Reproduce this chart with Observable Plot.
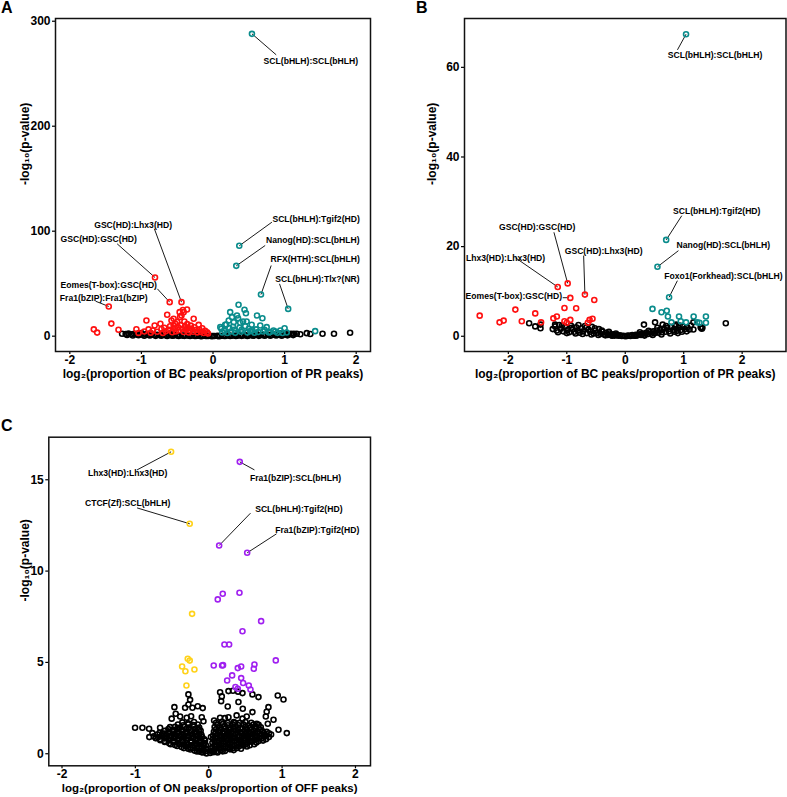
<!DOCTYPE html>
<html><head><meta charset="utf-8">
<script src="https://cdn.jsdelivr.net/npm/d3@7"></script>
<script src="https://cdn.jsdelivr.net/npm/@observablehq/plot@0.6"></script>
<style>
html,body{margin:0;padding:0;background:#fff;}
#root{position:relative;width:787px;height:797px;overflow:hidden;background:#fff;font-family:"Liberation Sans",Arial,Helvetica,sans-serif;}
.panel{position:absolute;}
.letter{position:absolute;font-weight:bold;font-size:16px;line-height:16px;color:#000;}
</style></head><body><div id="root"></div>
<script>
// ---------- shared ----------
const xTicks = [-2, -1, 0, 1, 2];
const yTitle = "-log\u2081\u2080(p-value)";

// ---------- Panel A ----------
const aTitleX = "log\u2082(proportion of BC peaks/proportion of PR peaks)";
const aTicksY = [0, 100, 200, 300];
const aBlack = [
[-1.27,2.3],[-1.22,2.1],[-1.18,2.4],[-1.14,1.9],[-1.1,2.2],[-1.06,1.6],[-1.02,2.0],[-0.98,1.4],[-0.94,1.8],[-0.9,1.2],
[-0.86,1.6],[-0.82,1.0],[-0.78,1.4],[-0.74,0.9],[-0.7,1.3],[-0.66,0.8],[-0.62,1.1],[-0.58,0.7],[-0.54,1.0],[-0.5,0.6],
[-0.46,0.9],[-0.42,0.5],[-0.38,0.8],[-0.34,0.4],[-0.3,0.6],[-0.26,0.3],[-0.22,0.5],[-0.18,0.2],[-0.14,0.4],[-0.1,0.1],
[-0.06,0.3],[-0.02,0.0],[0.02,0.1],[0.06,0.3],[0.1,0.2],[0.14,0.4],[0.18,0.3],[0.22,0.6],[0.26,0.4],[0.3,0.7],
[0.34,0.5],[0.38,0.8],[0.42,0.6],[0.46,0.9],[0.5,0.7],[0.54,1.0],[0.58,0.8],[0.62,1.1],[0.66,0.9],[0.7,1.2],
[0.74,1.0],[0.78,1.3],[0.82,1.1],[0.86,1.5],[0.9,1.2],[0.94,1.6],[0.98,1.3],[1.02,1.8],[1.06,1.5],[1.09,2.3],
[1.13,2.3],[1.17,2.3],[1.22,1.8],[1.31,2.9],[1.36,2.1],[1.53,2.3],[1.69,2.3],[1.915,3.2],
[-1.2,1.2],[-1.12,0.6],[-1.04,0.9],[-0.96,0.4],[-0.88,0.7],[-0.8,0.3],[-0.72,0.5],[-0.64,0.2],[-0.56,0.4],[-0.48,0.1],
[-0.4,0.3],[-0.32,0.1],[-0.24,0.2],[-0.16,0.0],[-0.08,0.1],[0.0,0.2],[0.08,0.0],[0.16,0.1],[0.24,0.2],[0.32,0.1],
[0.4,0.3],[0.48,0.2],[0.56,0.4],[0.64,0.3],[0.72,0.5],[0.8,0.4],[0.88,0.6],[0.96,0.5],[1.04,0.8],[1.12,1.0],
[-1.0,3.0],[-0.6,2.6],[-0.2,1.8],[0.2,2.0],[0.6,2.4],[0.95,2.7]
];
const aRed = [
[-1.665,6.5],[-1.618,3.4],[-1.456,28.3],[-1.42,12.0],[-1.32,6.1],[-1.07,6.6],[-1.04,3.0],[-0.96,4.5],[-0.93,15.0],[-0.9,6.5],
[-0.87,3.2],[-0.84,5.4],[-0.815,10.2],[-0.81,55.9],[-0.78,4.2],[-0.735,11.8],[-0.72,6.8],[-0.7,3.1],[-0.68,8.0],[-0.66,4.6],
[-0.64,20.4],[-0.62,6.0],[-0.605,32.4],[-0.6,9.5],[-0.58,15.0],[-0.57,3.8],[-0.55,16.6],[-0.55,10.0],[-0.53,7.2],[-0.526,11.8],
[-0.52,4.5],[-0.5,13.5],[-0.49,8.6],[-0.48,5.6],[-0.466,22.9],[-0.46,18.2],[-0.45,10.5],[-0.44,32.4],[-0.44,19.7],[-0.43,7.0],
[-0.42,25.0],[-0.41,22.9],[-0.41,4.0],[-0.4,14.0],[-0.39,9.0],[-0.38,6.0],[-0.363,25.4],[-0.36,11.5],[-0.35,8.0],[-0.34,3.5],
[-0.32,5.5],[-0.31,10.0],[-0.3,7.0],[-0.28,4.2],[-0.27,16.6],[-0.26,8.5],[-0.24,5.8],[-0.22,3.6],[-0.2,10.8],[-0.19,6.2],
[-0.17,4.0],[-0.15,7.5],[-0.13,3.0],[-0.11,5.0],[-0.084,3.8],[-0.07,2.5]
];
const aTeal = [
[0.102,8.6],[0.116,7.0],[0.13,3.5],[0.16,5.0],[0.17,10.9],[0.186,11.1],[0.2,3.0],[0.22,15.0],[0.23,7.5],[0.24,22.9],
[0.25,4.5],[0.265,18.1],[0.28,9.0],[0.29,13.3],[0.3,6.0],[0.31,3.2],[0.325,67.0],[0.335,19.7],[0.35,17.1],[0.357,29.9],
[0.367,86.1],[0.37,8.0],[0.38,12.8],[0.39,4.2],[0.4,6.0],[0.42,14.0],[0.44,25.1],[0.45,9.5],[0.46,21.9],[0.47,14.0],
[0.48,3.6],[0.5,7.0],[0.52,4.8],[0.54,10.9],[0.544,288.0],[0.55,5.5],[0.58,3.2],[0.6,6.5],[0.614,19.7],[0.63,4.0],
[0.66,10.2],[0.67,39.7],[0.69,17.1],[0.7,4.5],[0.72,6.0],[0.75,8.6],[0.78,3.5],[0.8,4.0],[0.845,5.4],[0.87,4.5],
[0.9,3.2],[0.94,5.4],[0.97,3.0],[1.0,7.6],[1.03,3.5],[1.05,26.0],[1.427,4.8]
];
const aLabels = [
  {name:"SCL(bHLH):SCL(bHLH)", lx:1.367, ly:261.6, sx:0.883, sy:268, px:0.544, py:288},
  {name:"GSC(HD):Lhx3(HD)", lx:-1.116, ly:106.1, sx:-0.819, sy:102.3, px:-0.44, py:32.4},
  {name:"GSC(HD):GSC(HD)", lx:-1.596, ly:92.1, sx:-1.339, sy:88, px:-0.81, py:55.9},
  {name:"Eomes(T-box):GSC(HD)", lx:-1.456, ly:48.3, sx:-0.777, sy:45.1, px:-0.605, py:32.4},
  {name:"Fra1(bZIP):Fra1(bZIP)", lx:-1.526, ly:36.6, sx:-1.64, sy:33.3, px:-1.456, py:28.3},
  {name:"SCL(bHLH):Tgif2(HD)", lx:1.44, ly:111.8, sx:0.823, sy:108.6, px:0.367, py:86.1},
  {name:"Nanog(HD):SCL(bHLH)", lx:1.395, ly:91.1, sx:0.729, sy:86.4, px:0.325, py:67},
  {name:"RFX(HTH):SCL(bHLH)", lx:1.427, ly:73.7, sx:0.813, sy:67.3, px:0.67, py:39.7},
  {name:"SCL(bHLH):Tlx?(NR)", lx:1.459, ly:54.7, sx:0.929, sy:49.9, px:1.05, py:26}
];

// ---------- Panel B ----------
const bTitleX = "log\u2082(proportion of BC peaks/proportion of PR peaks)";
const bTicksY = [0, 20, 40, 60];
const bBlack = [
[-1.644,2.9],[-1.54,2.2],[-1.45,2.6],[-1.45,1.8],[-1.24,1.6],[-1.2,2.2],[-1.17,1.3],[-1.13,2.5],[-1.1,1.7],[-1.06,1.1],
[-1.03,2.1],[-0.99,1.4],[-0.96,0.9],[-0.93,2.4],[-0.9,1.6],[-0.87,1.0],[-0.84,2.0],[-0.81,1.3],[-0.78,0.8],[-0.75,1.8],
[-0.72,1.1],[-0.69,2.3],[-0.66,0.7],[-0.63,1.5],[-0.6,1.0],[-0.57,2.1],[-0.54,0.6],[-0.51,1.3],[-0.48,0.8],[-0.45,1.6],
[-0.42,0.5],[-0.39,1.0],[-0.36,0.4],[-0.33,0.8],[-0.3,0.3],[-0.27,0.6],[-0.24,0.2],[-0.21,0.45],[-0.18,0.15],[-0.15,0.3],
[-0.12,0.1],[-0.09,0.2],[-0.06,0.05],[-0.03,0.1],[0.0,0.0],[0.03,0.08],[0.06,0.15],[0.09,0.05],[0.12,0.25],[0.15,0.12],
[0.18,0.35],[0.21,0.2],[0.24,0.45],[0.27,0.3],[0.3,0.6],[0.32,2.6],[0.33,0.4],[0.36,0.75],[0.39,0.5],[0.42,0.9],
[0.45,0.6],[0.48,1.1],[0.51,3.1],[0.51,0.7],[0.54,1.3],[0.57,0.8],[0.6,1.5],[0.63,0.9],[0.64,2.6],[0.66,1.7],
[0.69,1.0],[0.72,1.9],[0.75,1.1],[0.78,2.1],[0.82,1.4],[0.85,2.3],[0.88,1.2],[0.91,1.9],[0.95,1.4],[0.98,2.2],
[1.02,1.6],[1.06,2.0],[1.1,1.5],[1.166,3.1],[1.166,1.5],[1.3,1.87],[1.31,1.7],[1.29,2.0],[1.32,1.9],[1.72,2.9],
[-1.15,0.9],[-1.08,2.4],[-1.0,0.7],[-0.92,1.9],[-0.85,0.6],[-0.8,2.5],[-0.73,0.5],[-0.66,2.0],[-0.58,0.4],[-0.52,1.8],
[-0.46,0.3],[-0.4,1.3],[-0.34,0.2],[-0.28,1.0],[-0.22,0.1],[-0.16,0.6],[0.18,0.1],[0.25,0.9],[0.33,0.15],[0.4,1.2],
[0.47,0.3],[0.55,1.9],[0.62,0.4],[0.7,2.3],[0.77,0.6],[0.84,1.0],[0.9,0.7],[0.97,1.0],[1.05,1.1],[1.12,2.4],
[0.87,2.6],[0.93,2.4],[-1.2,2.6]
];
const bRed = [
[-2.49,4.6],[-2.15,3.1],[-2.08,3.5],[-1.88,5.95],[-1.77,3.35],[-1.54,5.1],[-1.44,3.1],[-1.23,4.0],[-1.17,4.4],[-1.155,11.0],
[-1.04,6.3],[-1.04,3.35],[-1.0,3.0],[-0.985,11.8],[-0.94,8.56],[-0.94,3.65],[-0.84,6.25],[-0.69,9.3],[-0.64,3.0],[-0.61,3.65],
[-0.56,3.9],[-0.53,8.1]
];
const bTeal = [
[0.466,6.1],[0.551,15.5],[0.62,5.35],[0.70,21.5],[0.71,5.7],[0.73,4.4],[0.75,8.7],[0.79,3.1],[0.92,4.4],[0.95,3.35],
[1.04,3.1],[1.04,67.4],[1.17,4.4],[1.23,3.1],[1.27,3.0],[1.38,4.4],[1.38,3.0]
];
const bLabels = [
  {name:"SCL(bHLH):SCL(bHLH)", lx:1.536, ly:62.6, sx:0.893, sy:63.9, px:1.04, py:67.4},
  {name:"SCL(bHLH):Tgif2(HD)", lx:1.565, ly:27.9, sx:0.967, sy:26.9, px:0.70, py:21.5},
  {name:"Nanog(HD):SCL(bHLH)", lx:1.678, ly:20.2, sx:0.91, sy:19.1, px:0.551, py:15.5},
  {name:"Foxo1(Forkhead):SCL(bHLH)", lx:1.678, ly:13.4, sx:0.892, sy:12.4, px:0.75, py:8.7},
  {name:"GSC(HD):GSC(HD)", lx:-1.507, ly:24.3, sx:-1.22, sy:23.2, px:-0.985, py:11.8},
  {name:"Lhx3(HD):Lhx3(HD)", lx:-2.048, ly:17.5, sx:-1.877, sy:17.5, px:-1.155, py:11.0},
  {name:"GSC(HD):Lhx3(HD)", lx:-0.37, ly:18.9, sx:-0.712, sy:18.0, px:-0.69, py:9.3},
  {name:"Eomes(T-box):GSC(HD)", lx:-1.906, ly:8.9, sx:-1.07, sy:8.6, px:-0.96, py:8.6}
];

// ---------- Panel C ----------
const cTitleX = "log\u2082(proportion of ON peaks/proportion of OFF peaks)";
const cTicksY = [0, 5, 10, 15];
const cBlack = [
[-1.004,1.42],[-0.904,1.42],[-0.813,1.37],[-0.81,0.91],[-0.768,1.13],[-0.72,0.85],[-0.663,1.42],[-0.63,1.1],[-0.527,1.46],[-0.505,1.92],
[-0.468,2.55],[-0.45,2.19],[-0.404,1.42],[-0.39,2.04],[-0.322,2.52],[-0.3,1.97],[-0.277,3.25],[-0.277,2.7],[-0.254,2.95],[-0.222,2.52],
[-0.15,2.6],[-0.095,2.0],[-0.082,2.5],[-0.072,1.78],
[0.073,1.82],[0.155,3.37],[0.155,1.97],[0.169,2.88],[0.178,3.14],[0.259,2.59],[0.269,3.43],[0.269,2.0],[0.33,3.45],[0.36,1.7],
[0.4,3.4],[0.405,2.83],[0.46,3.32],[0.464,2.46],[0.518,2.04],[0.596,3.25],[0.596,2.28],[0.655,1.64],[0.678,3.1],[0.778,2.04],
[0.79,2.3],[0.805,1.64],[0.814,2.55],[0.883,1.86],[0.941,3.19],[0.951,1.31],[1.019,2.97],[1.064,1.13],
[-0.08,0.07],[-0.03,0.02],[0.02,0.04],[0.07,0.09],
[-0.16,0.12],[-0.1,0.09],[-0.05,0.13],[0.05,0.1],[0.12,0.07],[0.19,0.13],
[-0.25,0.23],[-0.19,0.17],[-0.13,0.13],[-0.07,0.19],[0.04,0.16],[0.1,0.11],[0.16,0.21],[0.22,0.15],[0.29,0.24],[0.34,0.2],
[-0.34,0.31],[-0.28,0.27],[-0.22,0.32],[-0.16,0.28],[-0.1,0.3],[-0.04,0.26],[0.03,0.29],[0.08,0.27],[0.14,0.31],[0.2,0.28],
[0.26,0.32],[0.32,0.29],[0.38,0.31],[0.44,0.27],
[-0.43,0.43],[-0.37,0.37],[-0.31,0.41],[-0.25,0.36],[-0.19,0.45],[-0.13,0.38],[-0.07,0.42],[0.05,0.37],[0.11,0.43],[0.17,0.35],
[0.23,0.41],[0.29,0.36],[0.35,0.44],[0.41,0.39],[0.47,0.45],[0.52,0.4],
[-0.52,0.52],[-0.46,0.48],[-0.4,0.53],[-0.34,0.49],[-0.28,0.51],[-0.22,0.47],[-0.16,0.53],[-0.1,0.5],[-0.04,0.48],[0.08,0.52],
[0.14,0.47],[0.2,0.53],[0.26,0.49],[0.32,0.52],[0.38,0.48],[0.44,0.53],[0.5,0.5],[0.56,0.47],[0.62,0.52],
[-0.6,0.64],[-0.54,0.58],[-0.48,0.63],[-0.42,0.6],[-0.36,0.66],[-0.3,0.59],[-0.24,0.63],[-0.18,0.6],[-0.12,0.65],[-0.06,0.58],
[0.05,0.6],[0.11,0.64],[0.17,0.58],[0.23,0.63],[0.29,0.6],[0.35,0.66],[0.41,0.59],[0.47,0.62],[0.53,0.6],[0.59,0.65],[0.65,0.61],
[-0.66,0.74],[-0.6,0.7],[-0.54,0.73],[-0.48,0.69],[-0.42,0.75],[-0.36,0.71],[-0.3,0.73],[-0.24,0.7],[-0.18,0.74],[-0.12,0.69],
[-0.05,0.72],[0.08,0.7],[0.14,0.74],[0.2,0.69],[0.26,0.73],[0.32,0.71],[0.38,0.75],[0.44,0.7],[0.5,0.73],[0.56,0.69],
[0.62,0.74],[0.68,0.7],[0.74,0.72],
[-0.72,0.86],[-0.66,0.8],[-0.6,0.84],[-0.54,0.79],[-0.48,0.85],[-0.42,0.81],[-0.36,0.83],[-0.3,0.78],[-0.24,0.86],[-0.18,0.8],
[-0.12,0.84],[-0.06,0.79],[0.06,0.81],[0.12,0.86],[0.18,0.79],[0.24,0.83],[0.3,0.8],[0.36,0.85],[0.42,0.78],[0.48,0.84],
[0.54,0.8],[0.6,0.86],[0.66,0.79],[0.72,0.83],[0.78,0.8],
[-0.75,0.95],[-0.69,0.9],[-0.63,0.94],[-0.57,0.89],[-0.51,0.93],[-0.45,0.91],[-0.39,0.95],[-0.33,0.9],[-0.27,0.93],[-0.21,0.89],
[-0.15,0.94],[-0.09,0.91],[0.03,0.92],[0.09,0.9],[0.15,0.95],[0.21,0.91],[0.27,0.93],[0.33,0.89],[0.39,0.94],[0.45,0.9],
[0.51,0.95],[0.57,0.91],[0.63,0.93],[0.69,0.89],[0.75,0.94],[0.82,0.91],
[-0.7,1.05],[-0.64,0.99],[-0.58,1.04],[-0.52,1.0],[-0.46,1.06],[-0.4,0.98],[-0.34,1.03],[-0.28,1.0],[-0.22,1.07],[-0.16,0.99],
[-0.1,1.04],[0.06,1.0],[0.12,1.05],[0.18,0.98],[0.24,1.04],[0.3,1.01],[0.36,1.07],[0.42,0.99],[0.48,1.03],[0.54,1.0],
[0.6,1.06],[0.66,0.98],[0.72,1.04],[0.78,1.01],[0.85,1.05],
[-0.67,1.14],[-0.61,1.1],[-0.55,1.15],[-0.49,1.11],[-0.43,1.13],[-0.37,1.09],[-0.31,1.14],[-0.25,1.12],[-0.19,1.15],[-0.13,1.1],
[0.09,1.12],[0.15,1.15],[0.21,1.1],[0.27,1.14],[0.33,1.11],[0.39,1.15],[0.45,1.1],[0.51,1.13],[0.57,1.11],[0.63,1.15],
[0.69,1.1],[0.75,1.13],[0.82,1.12],
[-0.6,1.25],[-0.54,1.19],[-0.48,1.24],[-0.42,1.2],[-0.36,1.27],[-0.3,1.18],[-0.24,1.23],[-0.18,1.2],[-0.11,1.26],[0.07,1.2],
[0.13,1.25],[0.19,1.18],[0.25,1.24],[0.31,1.21],[0.37,1.27],[0.43,1.19],[0.49,1.23],[0.55,1.2],[0.61,1.26],[0.67,1.19],
[0.73,1.24],[0.79,1.2],
[-0.55,1.35],[-0.49,1.31],[-0.43,1.36],[-0.37,1.32],[-0.31,1.34],[-0.25,1.3],[-0.19,1.35],[-0.13,1.32],[0.1,1.34],[0.16,1.3],
[0.22,1.36],[0.28,1.32],[0.34,1.35],[0.4,1.31],[0.46,1.36],[0.52,1.33],[0.58,1.3],[0.64,1.35],[0.7,1.32],
[-0.46,1.47],[-0.39,1.42],[-0.33,1.48],[-0.27,1.43],[-0.2,1.49],[-0.13,1.44],[0.08,1.46],[0.15,1.42],[0.22,1.5],[0.29,1.44],
[0.36,1.48],[0.43,1.41],[0.5,1.47],[0.57,1.43],[0.64,1.49],[0.71,1.45],
[-0.42,1.6],[-0.35,1.56],[-0.28,1.61],[-0.21,1.57],[-0.15,1.6],[0.12,1.58],[0.19,1.62],[0.26,1.56],[0.33,1.6],[0.4,1.57],
[0.47,1.61],[0.54,1.56],[0.61,1.6],[0.68,1.58],
[-0.36,1.72],[-0.28,1.67],[-0.2,1.74],[0.1,1.7],[0.18,1.75],[0.26,1.68],[0.34,1.73],[0.42,1.69],[0.5,1.74],[0.58,1.7],
[0.22,1.95],[0.38,2.1],[0.46,1.92],[-0.24,2.05]
];
const cGold = [
[-0.513,16.53],[-0.259,12.59],[-0.227,7.66],[-0.286,5.2],[-0.259,5.1],[-0.363,4.78],[-0.318,4.52],[-0.195,4.61],[-0.304,3.74]
];
const cPurple = [
[0.423,15.98],[0.142,11.4],[0.524,11.0],[0.123,8.45],[0.191,8.76],[0.419,8.81],[0.714,7.26],[0.46,6.71],[0.214,5.98],[0.278,5.98],
[0.068,4.83],[0.182,4.83],[0.195,4.85],[0.396,4.69],[0.442,4.78],[0.614,4.65],[0.623,4.89],[0.914,5.11],[0.251,4.01],[0.319,4.29],
[0.442,4.14],[0.469,3.87],[0.546,3.74],[0.569,3.52],[0.396,3.56],[0.364,3.65]
];
const cLabels = [
  {name:"Lhx3(HD):Lhx3(HD)", lx:-1.105, ly:15.33, sx:-0.977, sy:15.54, px:-0.513, py:16.53},
  {name:"Fra1(bZIP):SCL(bHLH)", lx:1.183, ly:15.08, sx:0.623, sy:15.54, px:0.423, py:15.98},
  {name:"CTCF(Zf):SCL(bHLH)", lx:-1.105, ly:13.72, sx:-0.977, sy:13.46, px:-0.259, py:12.59},
  {name:"SCL(bHLH):Tgif2(HD)", lx:1.228, ly:13.41, sx:0.569, sy:13.17, px:0.142, py:11.4},
  {name:"Fra1(bZIP):Tgif2(HD)", lx:1.479, ly:12.22, sx:0.924, sy:12.04, px:0.524, py:11.0}
];

const RED = "#ff1010", TEAL = "#0a8c8c", GOLD = "#ffd21a", PURPLE = "#a020f0";

function makePanel(c) {
  const dotOpts = (color) => ({x: d => d[0], y: d => d[1], r: 2.5, stroke: color, strokeWidth: 1.6, fill: "none"});
  return Plot.plot({
    width: c.width, height: c.height,
    marginLeft: c.ml, marginRight: c.mr, marginTop: c.mt, marginBottom: c.mb,
    style: {fontFamily: "'Liberation Sans', Arial, Helvetica, sans-serif", fontSize: "12px", fontWeight: "bold", color: "#000", background: "transparent", overflow: "visible"},
    x: {domain: c.xDomain},
    y: {domain: c.yDomain},
    marks: [
      Plot.axisX({ticks: xTicks, tickSize: 3, tickPadding: 1, tickFormat: d => String(d), label: null, fontSize: 12, fontWeight: "bold", strokeWidth: 1.2}),
      Plot.axisY({ticks: c.yTicks, tickSize: 3, tickPadding: 2, tickFormat: d => String(d), label: null, fontSize: 12, fontWeight: "bold", strokeWidth: 1.2}),
      Plot.text([c.xTitle], {frameAnchor: "bottom", dy: c.xTitleDy, text: d => d, fontSize: c.xTitleSize, fontWeight: "bold", fill: "#000"}),
      Plot.text([yTitle], {frameAnchor: "left", dx: c.yTitleDx, rotate: -90, text: d => d, fontSize: 12, fontWeight: "bold", fill: "#000"}),
      Plot.link(c.labels, {x1: "sx", y1: "sy", x2: "px", y2: "py", stroke: "#000", strokeWidth: 0.9}),
      Plot.dot(c.black, dotOpts("#000")),
      ...c.groups.map(g => Plot.dot(g.data, dotOpts(g.color))),
      Plot.text(c.labels, {x: "lx", y: "ly", text: "name", fontSize: 8.6, fontWeight: "bold", fill: "#000"}),
      Plot.frame({stroke: "#111", strokeWidth: 1.5})
    ]
  });
}

const root = document.getElementById("root");
function place(el, left, top) {
  el.classList.add("panel");
  el.style.left = left + "px";
  el.style.top = top + "px";
  root.appendChild(el);
}

place(makePanel({
  width: 390, height: 392, ml: 55, mr: 20, mt: 18, mb: 41,
  xDomain: [-2.2, 2.2], yDomain: [-14.6, 302.6], yTicks: aTicksY,
  xTitle: aTitleX, xTitleDy: 26, xTitleSize: 12, yTitleDx: -30,
  black: aBlack, groups: [{data: aRed, color: RED}, {data: aTeal, color: TEAL}], labels: aLabels
}), 0, 0);

place(makePanel({
  width: 397, height: 392, ml: 74, mr: 1.5, mt: 18, mb: 41,
  xDomain: [-2.75, 2.75], yDomain: [-3.4, 70.9], yTicks: bTicksY,
  xTitle: bTitleX, xTitleDy: 26, xTitleSize: 12, yTitleDx: -32,
  black: bBlack, groups: [{data: bRed, color: RED}, {data: bTeal, color: TEAL}], labels: bLabels
}), 390, 0);

place(makePanel({
  width: 390, height: 407, ml: 48.3, mr: 20, mt: 46.7, mb: 31.7,
  xDomain: [-2.18, 2.205], yDomain: [-0.66, 17.33], yTicks: cTicksY,
  xTitle: cTitleX, xTitleDy: 26, xTitleSize: 11.5, yTitleDx: -24,
  black: cBlack, groups: [{data: cGold, color: GOLD}, {data: cPurple, color: PURPLE}], labels: cLabels
}), 0, 390);

for (const [t, l, tp] of [["A", 1, 0], ["B", 416, 0], ["C", 1, 418]]) {
  const d = document.createElement("div");
  d.className = "letter";
  d.textContent = t;
  d.style.left = l + "px";
  d.style.top = tp + "px";
  root.appendChild(d);
}
</script></body></html>
